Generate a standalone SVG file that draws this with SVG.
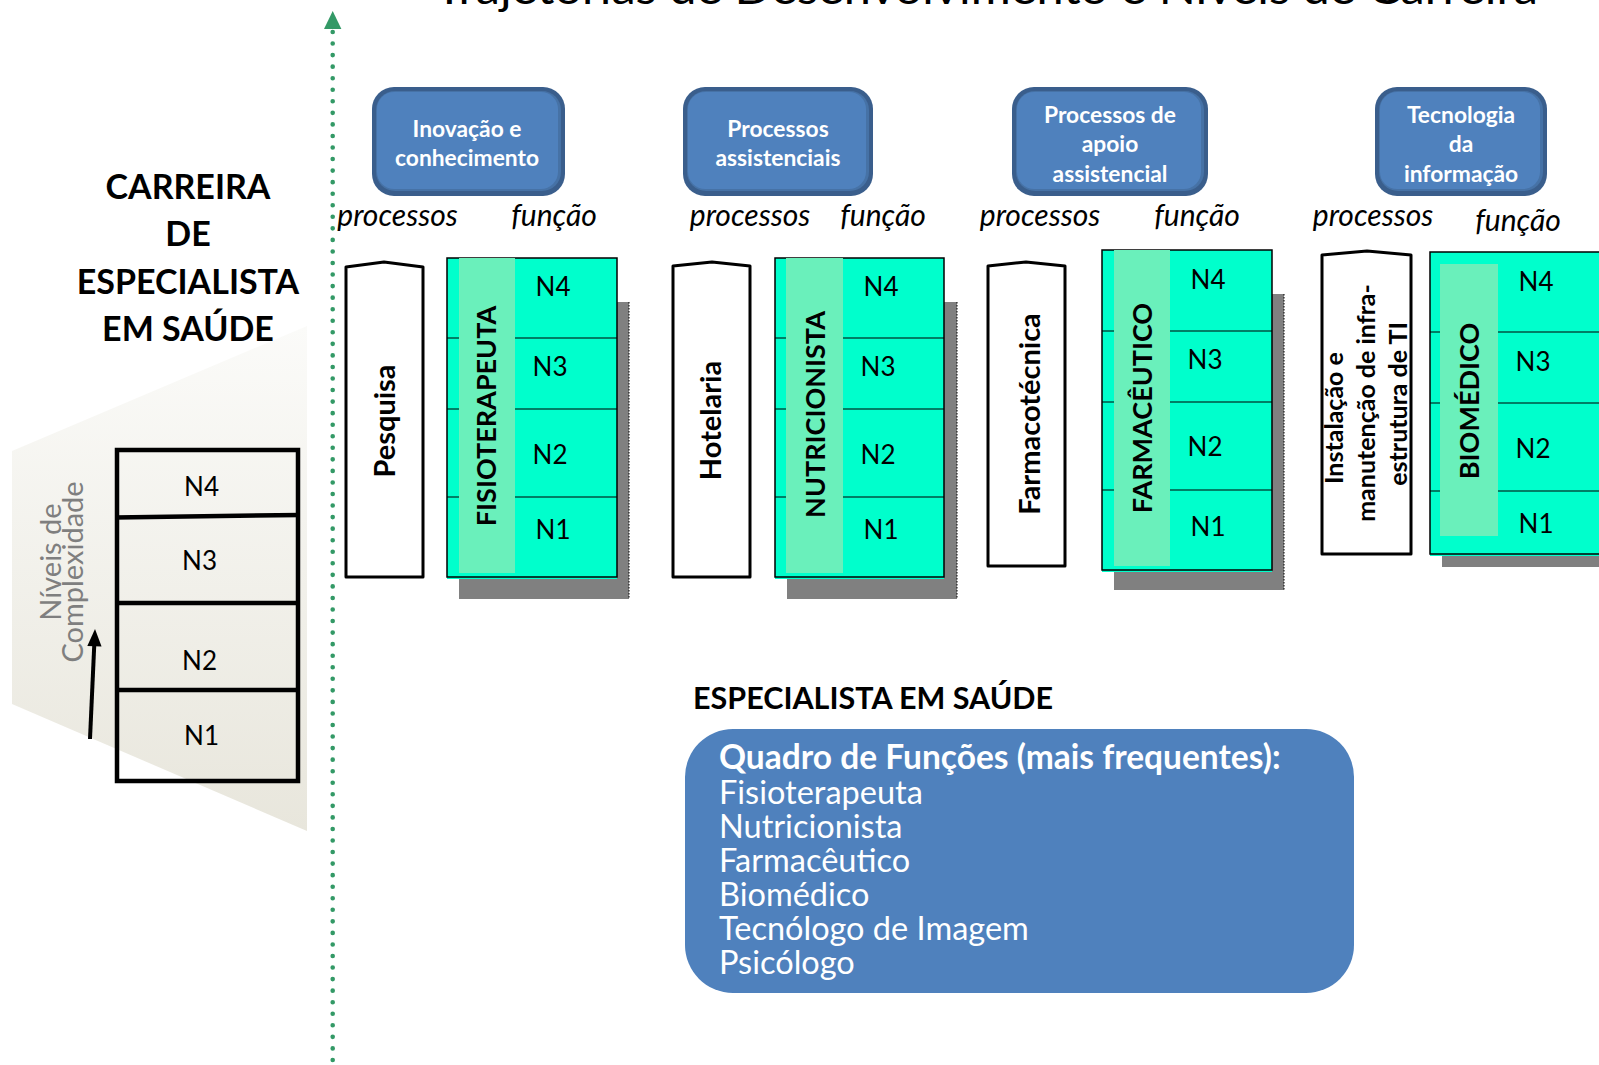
<svg xmlns="http://www.w3.org/2000/svg" width="1599" height="1065" viewBox="0 0 1599 1065">
<defs>
  <linearGradient id="fade" x1="0" y1="0" x2="0" y2="1">
    <stop offset="0" stop-color="#fbfbf9"/>
    <stop offset="1" stop-color="#e8e6dc"/>
  </linearGradient>
</defs>
<style>
  text { font-family: Lato, "Liberation Sans", sans-serif; fill: #000; }
  .title { font-size: 44px; }
  .head { font-size: 34px; font-weight: 700; text-anchor: middle; }
  .edge { fill: #3a5e8c; }
  .mid { fill: #4672a6; }
  .face { fill: #4f81bd; }
  .cat { font-size: 22.8px; font-weight: 700; fill: #fff; text-anchor: middle; }
  .lbl { font-size: 30px; font-style: italic; text-anchor: middle; }
  .proc { fill: #fff; stroke: #000; stroke-width: 3; stroke-linejoin: round; }
  .proc-t { font-size: 29px; font-weight: 700; text-anchor: middle; }
  .proc-s { font-size: 25px; font-weight: 700; text-anchor: middle; }
  .shadow { fill: #808080; }
  .shadow-edge { stroke: #000; stroke-width: 1; stroke-dasharray: 1.5 1.5; }
  .fn { fill: #00ffcc; }
  .fn-line { fill: none; stroke: #000; stroke-width: 1.5; }
  .sep { stroke: #000; stroke-width: 1.2; }
  .band { fill: #6af0bb; }
  .fn-t { font-size: 27px; font-weight: 700; text-anchor: middle; }
  .lvl { font-size: 26px; text-anchor: middle; }
  .grid { fill: none; stroke: #000; stroke-width: 4.5; }
  .axis { font-size: 29px; fill: #7f7f7f; text-anchor: middle; }
  .sub { font-size: 30.5px; font-weight: 700; }
  .list { font-size: 32.5px; fill: #fff; }
  .list-b { font-size: 33.5px; font-weight: 700; fill: #fff; }
</style>

<!-- page title, running off the top edge -->
<text class="title" x="435" y="4" textLength="1103" lengthAdjust="spacingAndGlyphs">Trajetórias de Desenvolvimento e Níveis de Carreira</text>

<!-- left panel: career levels -->
<g id="levels-panel">
  <polygon points="12,451 307,326 307,831 12,704" fill="url(#fade)"/>
  <text class="head" x="188" y="199">CARREIRA</text>
  <text class="head" x="188" y="246">DE</text>
  <text class="head" x="188" y="294">ESPECIALISTA</text>
  <text class="head" x="188" y="341">EM SAÚDE</text>
  <rect class="grid" x="117" y="450" width="181" height="331"/>
  <line class="grid" x1="115" y1="517.5" x2="300" y2="515"/>
  <line class="grid" x1="117" y1="603" x2="298" y2="603"/>
  <line class="grid" x1="117" y1="690" x2="298" y2="690"/>
  <text class="lvl" x="201.5" y="496">N4</text>
  <text class="lvl" x="199.5" y="569.5">N3</text>
  <text class="lvl" x="199.5" y="670">N2</text>
  <text class="lvl" x="201.5" y="744.5">N1</text>
  <text class="axis" transform="translate(61,562) rotate(-90)">Níveis de</text>
  <text class="axis" transform="translate(83,572) rotate(-90)">Complexidade</text>
  <line x1="90" y1="739" x2="94.3" y2="644" stroke="#000" stroke-width="4"/>
  <polygon points="95,629 87.3,646 101.6,646.5" fill="#000"/>
</g>

<!-- connectors -->
<g id="connectors">
  <line x1="332.7" y1="32" x2="332.7" y2="1070" stroke="#339966" stroke-width="4.6" stroke-linecap="round" stroke-dasharray="0 11.55"/>
  <polygon points="332.7,11 324,29 341.4,29" fill="#339966"/>
</g>

<!-- process category headers -->
<g id="cat-inovacao">
  <rect class="edge" x="372" y="87" width="193" height="109" rx="22"/>
  <rect class="mid" x="376" y="91" width="185" height="100" rx="19"/>
  <rect class="face" x="377" y="92" width="181" height="97" rx="17"/>
  <text class="cat" x="467" y="137">Inovação e</text>
  <text class="cat" x="467" y="166">conhecimento</text>
</g>
<g id="cat-assistenciais">
  <rect class="edge" x="683" y="87" width="190" height="109" rx="22"/>
  <rect class="mid" x="687" y="91" width="182" height="100" rx="19"/>
  <rect class="face" x="688" y="92" width="178" height="97" rx="17"/>
  <text class="cat" x="778" y="137">Processos</text>
  <text class="cat" x="778" y="166">assistenciais</text>
</g>
<g id="cat-apoio">
  <rect class="edge" x="1012" y="87" width="196" height="109" rx="22"/>
  <rect class="mid" x="1016" y="91" width="188" height="100" rx="19"/>
  <rect class="face" x="1017" y="92" width="184" height="97" rx="17"/>
  <text class="cat" x="1110" y="123">Processos de</text>
  <text class="cat" x="1110" y="152">apoio</text>
  <text class="cat" x="1110" y="182">assistencial</text>
</g>
<g id="cat-ti">
  <rect class="edge" x="1375" y="87" width="172" height="109" rx="22"/>
  <rect class="mid" x="1379" y="91" width="164" height="100" rx="19"/>
  <rect class="face" x="1380" y="92" width="160" height="97" rx="17"/>
  <text class="cat" x="1461" y="123">Tecnologia</text>
  <text class="cat" x="1461" y="152">da</text>
  <text class="cat" x="1461" y="182">informação</text>
</g>

<!-- column captions -->
<g id="captions">
  <text class="lbl" x="397.5" y="226">processos</text>
  <text class="lbl" x="554" y="226">função</text>
  <text class="lbl" x="750" y="226">processos</text>
  <text class="lbl" x="883" y="226">função</text>
  <text class="lbl" x="1040" y="226">processos</text>
  <text class="lbl" x="1197" y="226">função</text>
  <text class="lbl" x="1373" y="226">processos</text>
  <text class="lbl" x="1518" y="231">função</text>
</g>

<!-- process columns -->
<g id="proc-pesquisa">
  <path class="proc" d="M346,267 L384,262 L423,267 L423,577 L346,577 Z"/>
  <text class="proc-t" transform="translate(395,421) rotate(-90)">Pesquisa</text>
</g>
<g id="proc-hotelaria">
  <path class="proc" d="M673,266 L712,262 L750,266 L750,577 L673,577 Z"/>
  <text class="proc-t" transform="translate(721,420.5) rotate(-90)">Hotelaria</text>
</g>
<g id="proc-farmacotecnica">
  <path class="proc" d="M988,266 L1026,262 L1065,266 L1065,566 L988,566 Z"/>
  <text class="proc-t" transform="translate(1039.5,414) rotate(-90)">Farmacotécnica</text>
</g>
<g id="proc-infra-ti">
  <path class="proc" d="M1322,255 L1367,251 L1411,255 L1411,554 L1322,554 Z"/>
  <text class="proc-s" transform="translate(1342.5,418) rotate(-90)">Instalação e</text>
  <text class="proc-s" transform="translate(1375,403) rotate(-90)">manutenção de infra-</text>
  <text class="proc-s" transform="translate(1407,404) rotate(-90)">estrutura de TI</text>
</g>

<!-- function columns with levels -->
<g id="fn-fisioterapeuta">
  <rect class="shadow" x="459" y="302" width="170" height="297"/>
  <line class="shadow-edge" x1="629" y1="302" x2="629" y2="599"/>
  <rect class="fn" x="447" y="258" width="170" height="321"/>
  <line class="sep" x1="447" y1="338" x2="617" y2="338"/>
  <line class="sep" x1="447" y1="409" x2="617" y2="409"/>
  <line class="sep" x1="447" y1="497" x2="617" y2="497"/>
  <rect class="fn-line" x="447" y="258" width="170" height="319"/>
  <rect class="band" x="459" y="258" width="56" height="315"/>
  <text class="fn-t" transform="translate(496,416) rotate(-90)">FISIOTERAPEUTA</text>
  <text class="lvl" x="553" y="296">N4</text>
  <text class="lvl" x="550" y="376">N3</text>
  <text class="lvl" x="550" y="464">N2</text>
  <text class="lvl" x="553" y="539">N1</text>
</g>
<g id="fn-nutricionista">
  <rect class="shadow" x="787" y="302" width="170" height="297"/>
  <line class="shadow-edge" x1="957" y1="302" x2="957" y2="599"/>
  <rect class="fn" x="775" y="258" width="169" height="321"/>
  <line class="sep" x1="775" y1="338" x2="944" y2="338"/>
  <line class="sep" x1="775" y1="409" x2="944" y2="409"/>
  <line class="sep" x1="775" y1="497" x2="944" y2="497"/>
  <rect class="fn-line" x="775" y="258" width="169" height="319"/>
  <rect class="band" x="786" y="258" width="57" height="315"/>
  <text class="fn-t" transform="translate(825,414.5) rotate(-90)">NUTRICIONISTA</text>
  <text class="lvl" x="881" y="296">N4</text>
  <text class="lvl" x="878" y="376">N3</text>
  <text class="lvl" x="878" y="464">N2</text>
  <text class="lvl" x="881" y="539">N1</text>
</g>
<g id="fn-farmaceutico">
  <rect class="shadow" x="1114" y="294" width="170" height="296"/>
  <line class="shadow-edge" x1="1284" y1="294" x2="1284" y2="590"/>
  <rect class="fn" x="1102" y="250" width="170" height="322"/>
  <line class="sep" x1="1102" y1="331" x2="1272" y2="331"/>
  <line class="sep" x1="1102" y1="402" x2="1272" y2="402"/>
  <line class="sep" x1="1102" y1="490" x2="1272" y2="490"/>
  <rect class="fn-line" x="1102" y="250" width="170" height="320"/>
  <rect class="band" x="1114" y="250" width="56" height="316"/>
  <text class="fn-t" transform="translate(1152,408) rotate(-90)">FARMACÊUTICO</text>
  <text class="lvl" x="1208" y="289">N4</text>
  <text class="lvl" x="1205" y="369">N3</text>
  <text class="lvl" x="1205" y="456">N2</text>
  <text class="lvl" x="1208" y="536">N1</text>
</g>
<g id="fn-biomedico">
  <rect class="shadow" x="1442" y="296" width="180" height="271"/>
  <rect class="fn" x="1430" y="252" width="190" height="304"/>
  <line class="sep" x1="1430" y1="332" x2="1620" y2="332"/>
  <line class="sep" x1="1430" y1="403" x2="1620" y2="403"/>
  <line class="sep" x1="1430" y1="491" x2="1620" y2="491"/>
  <rect class="fn-line" x="1430" y="252" width="190" height="302"/>
  <rect class="band" x="1440" y="264" width="58" height="272"/>
  <text class="fn-t" transform="translate(1479,401) rotate(-90)">BIOMÉDICO</text>
  <text class="lvl" x="1536" y="291">N4</text>
  <text class="lvl" x="1533" y="371">N3</text>
  <text class="lvl" x="1533" y="458">N2</text>
  <text class="lvl" x="1536" y="533">N1</text>
</g>

<!-- summary of functions -->
<g id="summary">
  <text class="sub" x="693" y="709">ESPECIALISTA EM SAÚDE</text>
  <rect x="685" y="729" width="669" height="264" rx="48" fill="#4f81bd"/>
  <text class="list-b" x="719" y="769">Quadro de Funções (mais frequentes):</text>
  <text class="list" x="719" y="803.5">Fisioterapeuta</text>
  <text class="list" x="719" y="837.5">Nutricionista</text>
  <text class="list" x="719" y="871.5">Farmacêutico</text>
  <text class="list" x="719" y="905.5">Biomédico</text>
  <text class="list" x="719" y="939.5">Tecnólogo de Imagem</text>
  <text class="list" x="719" y="973.5">Psicólogo</text>
</g>
</svg>
